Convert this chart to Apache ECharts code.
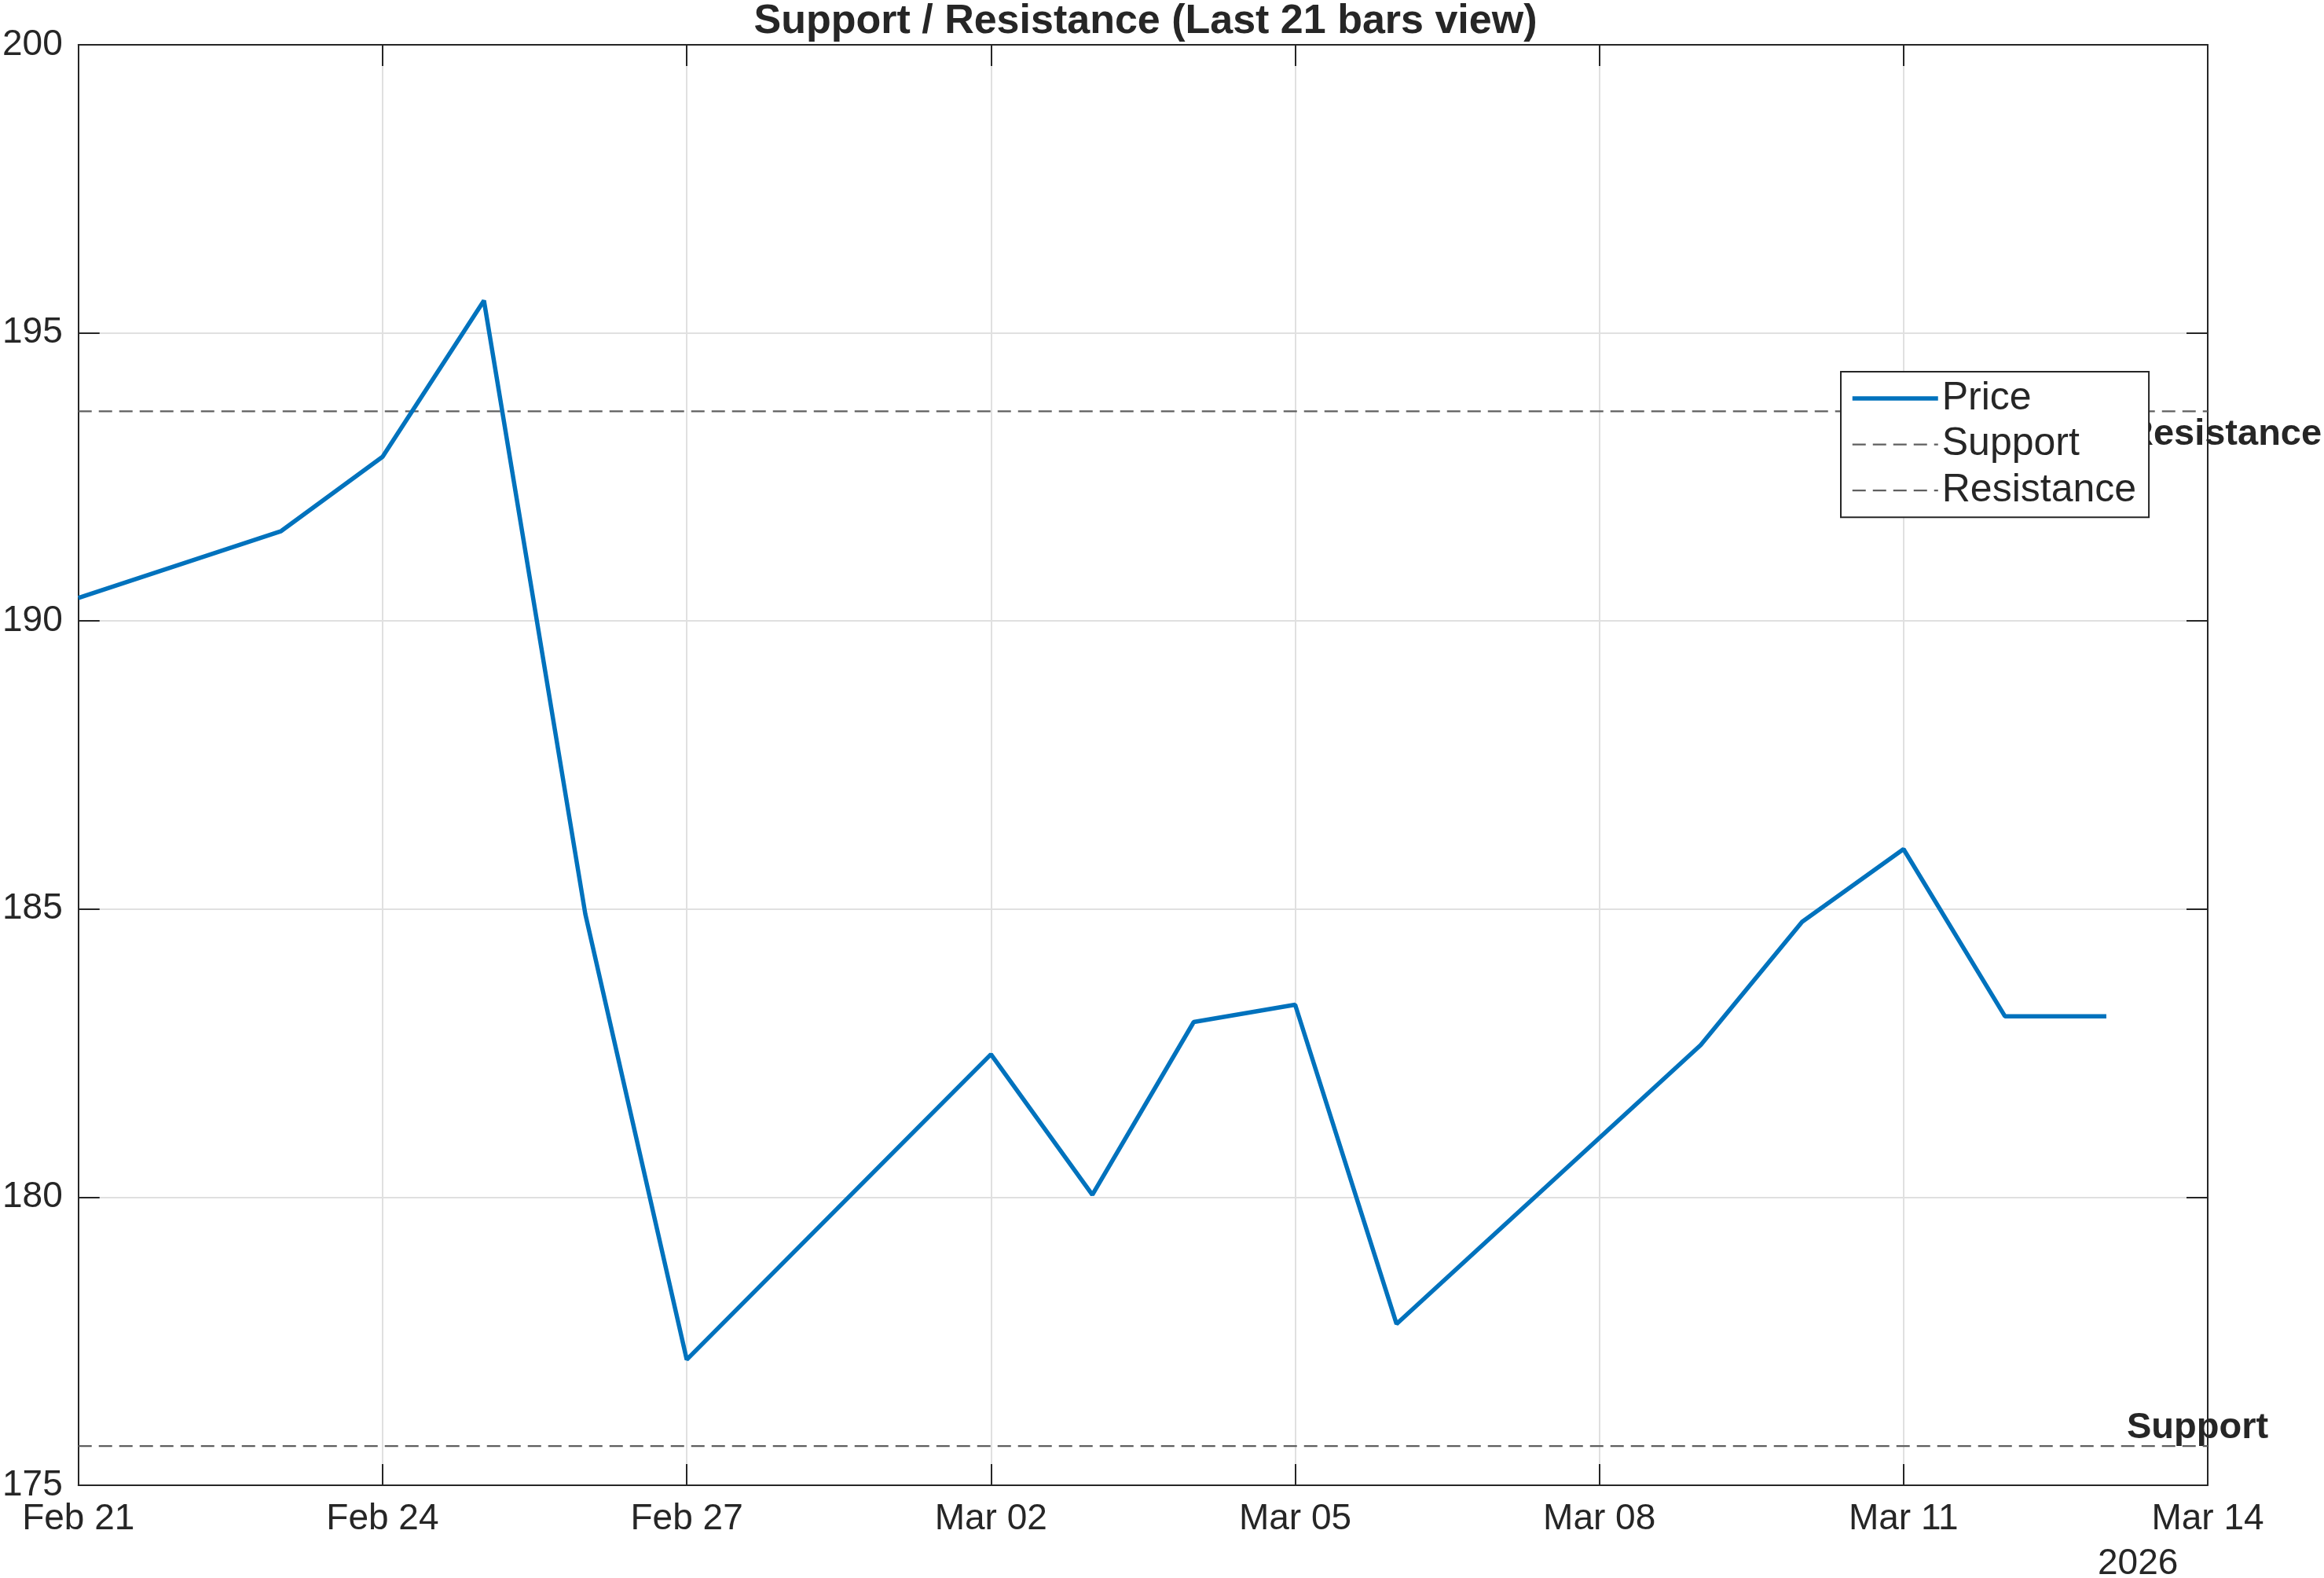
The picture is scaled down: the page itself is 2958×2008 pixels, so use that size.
<!DOCTYPE html>
<html>
<head>
<meta charset="utf-8">
<script src="https://cdn.jsdelivr.net/npm/echarts@6/dist/echarts.min.js"></script>
<style>
html,body{margin:0;padding:0;background:#fff;}
#chart{width:2958px;height:2008px;}
</style>
</head>
<body>
<div id="chart"></div>
<script>
// ---- data ----
const startDate = "2026-02-21";
const endDate = "2026-03-14";
const dates = ["2026-02-21","2026-02-23","2026-02-24","2026-02-25","2026-02-26","2026-02-27",
               "2026-03-02","2026-03-03","2026-03-04","2026-03-05","2026-03-06",
               "2026-03-09","2026-03-10","2026-03-11","2026-03-12","2026-03-13"];
const price = [190.40,191.56,192.85,195.56,184.91,177.18,
               182.48,180.04,183.04,183.34,177.80,
               182.64,184.78,186.04,183.14,183.14];
const supportLevel = 175.68;
const resistanceLevel = 193.64;
const xTickLabels = ["Feb 21","Feb 24","Feb 27","Mar 02","Mar 05","Mar 08","Mar 11","Mar 14"];
const yMin = 175, yMax = 200, yStep = 5;
const xStepDays = 3;
const yearLabel = "2026";
const titleText = "Support / Resistance (Last 21 bars view)";

// ---- build ----
const DAY = 86400000;
const t0 = Date.parse(startDate);
const dayOf = d => Math.round((Date.parse(d) - t0) / DAY);
const xMax = dayOf(endDate);
const priceData = dates.map((d, i) => [dayOf(d), price[i]]);
const lastX = dayOf(dates[dates.length - 1]);

const FONT = "'Liberation Sans', Arial, Helvetica, sans-serif";
const AX = '#262626';
const DASH = '#5f5f5f';
const PRICE_W = 5.5, DASH_W = 2.2;

const chart = echarts.init(document.getElementById('chart'), null, {renderer: 'canvas'});

const xCommon = {
  type: 'value', min: 0, max: xMax, interval: xStepDays,
  axisLine: {show: true, onZero: false, lineStyle: {color: AX, width: 2}},
  axisTick: {show: true, inside: true, length: 27, lineStyle: {color: AX, width: 2}},
};
const yCommon = {
  type: 'value', min: yMin, max: yMax, interval: yStep,
  axisLine: {show: true, onZero: false, lineStyle: {color: AX, width: 2}},
  axisTick: {show: true, inside: true, length: 27, lineStyle: {color: AX, width: 2}},
};

chart.setOption({
  animation: false,
  backgroundColor: '#fff',
  title: {
    text: titleText, left: 1453, textAlign: 'center', top: -3,
    textStyle: {fontFamily: FONT, fontWeight: 'bold', fontSize: 52, color: AX}
  },
  grid: {left: 97, right: 148, top: 57, bottom: 118, containLabel: false},
  legend: {
    data: [
      {name: 'Price', lineStyle: {width: PRICE_W}},
      {name: 'Support', lineStyle: {width: DASH_W}},
      {name: 'Resistance', lineStyle: {width: DASH_W}}
    ],
    orient: 'vertical', left: 2343, top: 473,
    padding: [9, 16, 9, 12],
    itemWidth: 109, itemHeight: 46, itemGap: 8.6,
    backgroundColor: '#fff', borderColor: AX, borderWidth: 2,
    itemStyle: {opacity: 0},
    textStyle: {fontFamily: FONT, fontSize: 50, color: AX},
    z: 10
  },
  xAxis: [
    Object.assign({}, xCommon, {
      position: 'bottom',
      splitLine: {show: true, lineStyle: {color: '#e0e0e0', width: 2}},
      axisLabel: {
        show: true, margin: 20, fontFamily: FONT, fontSize: 46, color: AX,
        formatter: v => xTickLabels[Math.round(v / xStepDays)] ?? ''
      }
    }),
    Object.assign({}, xCommon, {
      position: 'top', splitLine: {show: false}, axisLabel: {show: false}
    })
  ],
  yAxis: [
    Object.assign({}, yCommon, {
      position: 'left',
      splitLine: {show: true, lineStyle: {color: '#e0e0e0', width: 2}},
      axisLabel: {show: true, margin: 20, fontFamily: FONT, fontSize: 46, color: AX}
    }),
    Object.assign({}, yCommon, {
      position: 'right', splitLine: {show: false}, axisLabel: {show: false}
    })
  ],
  series: [
    {
      name: 'Price', type: 'line', data: priceData, symbol: 'none', z: 3,
      lineStyle: {color: '#0072BD', width: PRICE_W}, itemStyle: {color: '#0072BD'}
    },
    {
      name: 'Support', type: 'line', data: [[0, supportLevel], [xMax, supportLevel]],
      symbol: 'none', z: 2,
      lineStyle: {color: DASH, width: DASH_W, type: [17, 9]}, itemStyle: {color: DASH}
    },
    {
      name: 'Resistance', type: 'line', data: [[0, resistanceLevel], [xMax, resistanceLevel]],
      symbol: 'none', z: 2,
      lineStyle: {color: DASH, width: DASH_W, type: [17, 9]}, itemStyle: {color: DASH}
    },
    {
      name: 'levelLabels', type: 'scatter', symbolSize: 0, z: 1, silent: true,
      itemStyle: {opacity: 1},
      data: [
        {value: [lastX, supportLevel], label: {formatter: 'Support', position: [26, 0], verticalAlign: 'bottom'}},
        {value: [lastX, resistanceLevel], label: {formatter: 'Resistance', position: [26, 6], verticalAlign: 'top'}}
      ],
      label: {show: true, align: 'left', fontFamily: FONT, fontWeight: 'bold', fontSize: 47, color: AX}
    }
  ],
  graphic: [
    {type: 'text', left: 2670, top: 1967, z: 5,
     style: {text: yearLabel, font: "46px 'Liberation Sans', Arial, sans-serif", fill: AX}}
  ]
});
</script>
</body>
</html>
